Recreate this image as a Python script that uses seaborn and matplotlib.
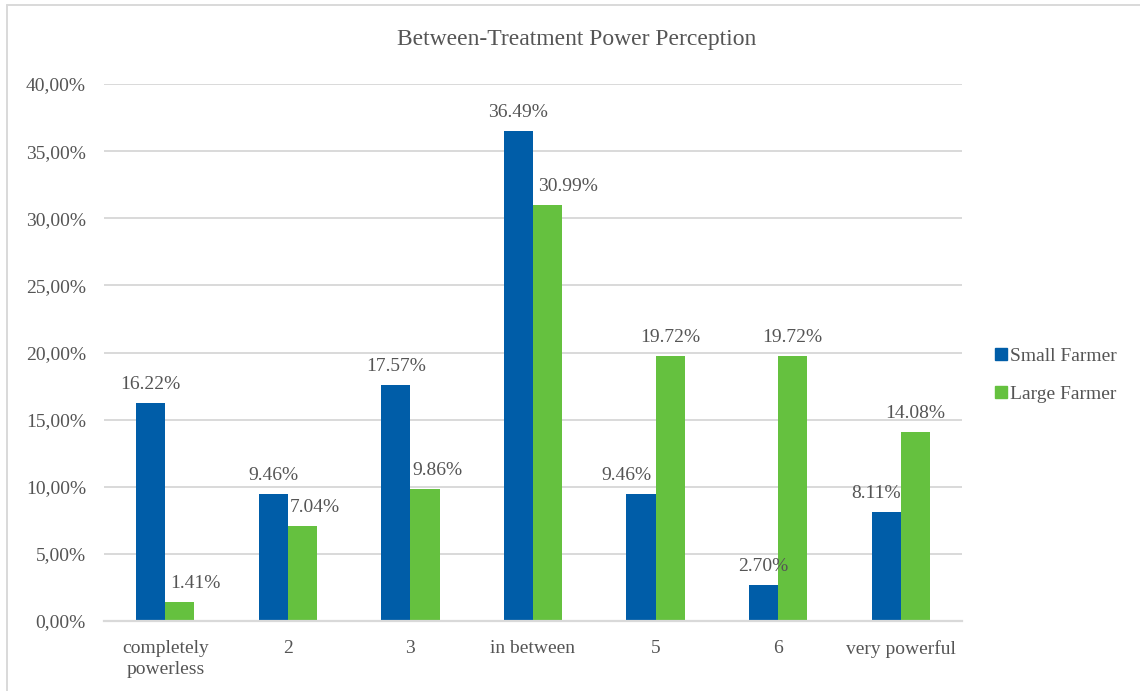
import matplotlib
matplotlib.use("Agg")
import matplotlib.pyplot as plt
import matplotlib.ticker as mticker
from matplotlib.lines import Line2D
import seaborn as sns
import pandas as pd
import numpy as np

# ---- data -------------------------------------------------------------
categories = ["completely\npowerless", "2", "3", "in between", "5", "6", "very powerful"]
series_names = ["Small Farmer", "Large Farmer"]
small_farmer = [16.22, 9.46, 17.57, 36.49, 9.46, 2.70, 8.11]
large_farmer = [1.41, 7.04, 9.86, 30.99, 19.72, 19.72, 14.08]
y_ticks = [0, 5, 10, 15, 20, 25, 30, 35, 40]

# horizontal nudges (pixels) for the value labels, to keep them off the neighbouring bar
small_label_dx = [0, 0, 0, 0, -15, 0, -10]
large_label_dx = [16, 12, 12, 20, 0, 0, 0]

# ---- styling ----------------------------------------------------------
sns.set_theme(style="white")
plt.rcParams["font.family"] = ["Liberation Serif", "DejaVu Serif"]
TEXT = "#555555"
GRID = "#d9d9d9"
BLUE = "#005da8"
GREEN = "#65c13f"

df = pd.DataFrame({
    "category": categories * 2,
    "series": [series_names[0]] * len(categories) + [series_names[1]] * len(categories),
    "value": (np.array(small_farmer + large_farmer)) / 100.0,
})

fig = plt.figure(figsize=(11.40, 6.91), dpi=100)
ax = fig.add_axes([104 / 1140, 70 / 691, 858 / 1140, 537 / 691])

sns.barplot(
    data=df, x="category", y="value", hue="series",
    order=categories, hue_order=series_names,
    palette=[BLUE, GREEN], width=0.475, gap=0,
    saturation=1, errorbar=None, ax=ax, legend=False, linewidth=0,
)

# ---- axes -------------------------------------------------------------
ax.set_ylim(0, 0.40)
ax.set_xlim(-0.5, len(categories) - 0.5)
ax.yaxis.set_major_locator(mticker.FixedLocator([v / 100 for v in y_ticks]))
ax.yaxis.set_major_formatter(
    mticker.FuncFormatter(lambda v, _: f"{v * 100:.2f}".replace(".", ",") + "%")
)
ax.grid(axis="y", color=GRID, linewidth=1.4)
ax.set_axisbelow(True)
for s in ["left", "right", "top"]:
    ax.spines[s].set_visible(False)
ax.spines["bottom"].set_color(GRID)
ax.spines["bottom"].set_linewidth(1.6)

ax.set_xlabel("")
ax.set_ylabel("")
ax.tick_params(axis="y", length=0, pad=13, labelsize=14, labelcolor=TEXT)
ax.tick_params(axis="x", which="major", length=0, pad=14, labelsize=14, labelcolor=TEXT)
ax.set_xticks(range(len(categories)))
ax.set_xticklabels(categories, linespacing=1.25)
ax.xaxis.set_minor_locator(mticker.FixedLocator(np.arange(-0.5, len(categories), 1.0)))
ax.tick_params(axis="x", which="minor", length=5, width=1.4, color=GRID, direction="out")

# ---- value labels -----------------------------------------------------
for container, values, nudges in zip(ax.containers, [small_farmer, large_farmer],
                                     [small_label_dx, large_label_dx]):
    for bar, val, dx in zip(container, values, nudges):
        ax.annotate(
            f"{val:.2f}%",
            xy=(bar.get_x() + bar.get_width() / 2, bar.get_height()),
            xytext=(dx, 14), textcoords="offset pixels",
            ha="center", va="baseline", fontsize=14, color=TEXT,
        )

# ---- legend -----------------------------------------------------------
handles = [Line2D([0], [0], marker="s", linestyle="none", markersize=8,
                  markerfacecolor=c, markeredgecolor=c) for c in [BLUE, GREEN]]
fig.legend(handles, series_names, loc="center left",
           bbox_to_anchor=(986 / 1140, 1 - 375 / 691), frameon=False,
           fontsize=14, labelcolor=TEXT, handlelength=0.7, handletextpad=0.15,
           labelspacing=1.05, borderaxespad=0)

# ---- title and outer frame ---------------------------------------------
fig.text(577 / 1140, 1 - 40 / 691, "Between-Treatment Power Perception",
         ha="center", va="center", fontsize=17, color=TEXT)
fig.add_artist(Line2D([7 / 1140, 7 / 1140], [0, 1 - 5 / 691], transform=fig.transFigure,
                      color=GRID, linewidth=1.4))
fig.add_artist(Line2D([7 / 1140, 1], [1 - 5 / 691, 1 - 5 / 691], transform=fig.transFigure,
                      color=GRID, linewidth=1.4))

fig.savefig("out.png", dpi=100, facecolor="white")
